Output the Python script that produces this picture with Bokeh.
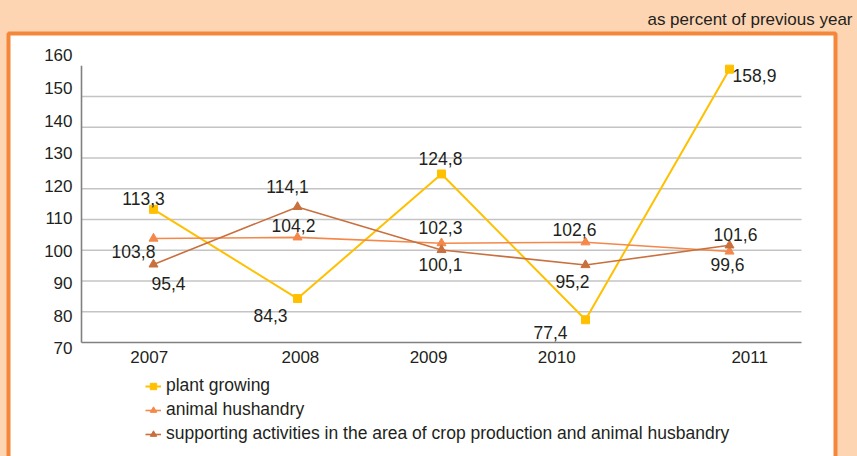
from bokeh.plotting import figure
from bokeh.models import (Range1d, LinearAxis, FixedTicker, Label, Legend, LegendItem,
                          BoxAnnotation)
from bokeh.core.properties import value
from bokeh.embed import file_html
from bokeh.resources import INLINE

# ---------------- data ----------------
years = [2007, 2008, 2009, 2010, 2011]
year_labels = ["2007", "2008", "2009", "2010", "2011"]
plant_growing = [113.3, 84.3, 124.8, 77.4, 158.9]
animal_husbandry = [103.8, 104.2, 102.3, 102.6, 99.6]
supporting = [95.4, 114.1, 100.1, 95.2, 101.6]
y_ticks = [70, 80, 90, 100, 110, 120, 130, 140, 150, 160]
grid_ticks = [80, 90, 100, 110, 120, 130, 140, 150]
series_names = ["plant growing", "animal hushandry",
                "supporting activities in the area of crop production and animal husbandry"]
subtitle = "as percent of previous year"

# ---------------- styles / layout ----------------
FONT = "Liberation Sans"
TXT = "#231F20"
PEACH = "#FDD5B3"
BORDER = "#F5873A"
C_PLANT = "#FFC000"
C_ANIMAL = "#F4884A"
C_SUPPORT = "#C8703E"
GRID = "#C4C4C4"
AXIS = "#808080"
FS = "17px"

# data-label pixel offsets (x, y) relative to each point
off_plant = ([-10, -27, -1, -35, 25], [-11, 17, -15, 13, 6])
off_animal = ([-20, -4, -1, -11, -2], [13, -12, -16, -13, 13])
off_support = ([15, -10, -1, -13, 6], [19, -20, 15, 16, -11])

# x tick label positions (as placed in the original)
xlabel_pos = [2006.97, 2008.02, 2008.91, 2009.80, 2011.14]

x_lo, x_hi = years[0] - 0.5, years[-1] + 0.5
y_lo, y_hi = y_ticks[0], y_ticks[-1]

p = figure(width=857, height=456,
           x_range=Range1d(2005.9375, 2011.8889),
           y_range=Range1d(32.927, 181.2195),
           x_axis_location=None, y_axis_location=None, min_border=0,
           output_backend="svg", toolbar_location=None,
           border_fill_color=PEACH, background_fill_color=PEACH,
           outline_line_color=None)
p.xgrid.visible = False
p.ygrid.visible = False
p.extra_y_ranges = {"ylab": Range1d(36.826, 176.893)}

# white panel with orange frame
p.add_layout(BoxAnnotation(left=8, right=835, top=33, bottom=470,
                           left_units="canvas", right_units="canvas",
                           top_units="canvas", bottom_units="canvas",
                           fill_color="white", fill_alpha=1.0,
                           line_color=BORDER, line_alpha=1.0, line_width=4,
                           level="image"))

# grid lines and axis lines
p.segment(x0=[x_lo] * len(grid_ticks), x1=[x_hi] * len(grid_ticks),
          y0=grid_ticks, y1=grid_ticks, line_color=GRID, line_width=1.5)
p.segment(x0=[x_lo, x_lo], y0=[y_lo, y_lo], x1=[x_lo, x_hi], y1=[y_hi, y_lo],
          line_color=AXIS, line_width=1.6)

# y axis (labels)
yax = LinearAxis(y_range_name="ylab", ticker=FixedTicker(ticks=y_ticks),
                 fixed_location=x_lo)
yax.axis_line_color = None
yax.major_tick_line_color = None
yax.minor_tick_line_color = None
yax.major_tick_out = 0
yax.major_tick_in = 0
yax.major_label_standoff = 9
yax.major_label_text_font = FONT
yax.major_label_text_font_size = FS
yax.major_label_text_color = TXT
p.add_layout(yax, "left")

# x axis (labels)
xax = LinearAxis(ticker=FixedTicker(ticks=xlabel_pos), fixed_location=y_lo)
xax.major_label_overrides = {pos: lab for pos, lab in zip(xlabel_pos, year_labels)}
xax.axis_line_color = None
xax.major_tick_line_color = None
xax.minor_tick_line_color = None
xax.major_tick_out = 0
xax.major_tick_in = 0
xax.major_label_standoff = 8
xax.major_label_text_font = FONT
xax.major_label_text_font_size = FS
xax.major_label_text_color = TXT
p.add_layout(xax, "below")

def fmt(v):
    return f"{v:.1f}".replace(".", ",")

items = []
for vals, color, marker, msize, lw, offs, name in [
        (plant_growing, C_PLANT, "square", 8, 2, off_plant, series_names[0]),
        (animal_husbandry, C_ANIMAL, "triangle", 9, 1.6, off_animal, series_names[1]),
        (supporting, C_SUPPORT, "triangle", 9, 1.6, off_support, series_names[2])]:
    r1 = p.line(years, vals, line_color=color, line_width=lw)
    r2 = p.scatter(years, vals, marker=marker, size=msize, fill_color=color,
                   line_color=color)
    items.append(LegendItem(label=name, renderers=[r1, r2]))
    p.text(x=years, y=vals, text=[fmt(v) for v in vals],
           x_offset=offs[0], y_offset=offs[1],
           text_align="center", text_baseline="middle",
           text_font=value(FONT), text_font_size="17.5px", text_color=TXT)

legend = Legend(items=items, location=(145, 12), orientation="vertical",
                padding=0, margin=0, spacing=3, glyph_width=16, glyph_height=20,
                label_height=20, label_standoff=5,
                label_text_font=FONT, label_text_font_size="17.5px",
                label_text_color=TXT, border_line_color=None,
                background_fill_alpha=0)
p.add_layout(legend, "center")

p.add_layout(Label(x=852, y=437, x_units="screen", y_units="screen", text=subtitle,
                   text_align="right", text_baseline="middle",
                   text_font=FONT, text_font_size=FS, text_color=TXT))

html = file_html(p, INLINE, title="chart")
html = html.replace("</head>", "<style>html, body {background: " + PEACH + ";}</style></head>", 1)
open("out.html", "w").write(html)
